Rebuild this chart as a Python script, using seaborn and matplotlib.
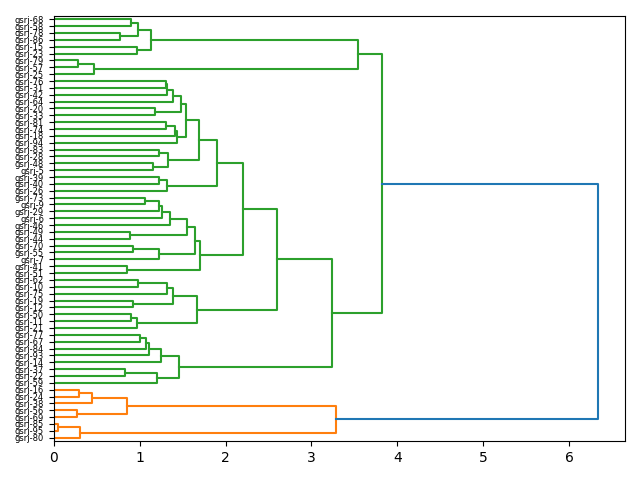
import seaborn as sns
import matplotlib.pyplot as plt
import pandas as pd

# leaf labels, listed top to bottom as they appear
leaves = ['gsrj-68', 'gsrj-58', 'gsrj-78', 'gsrj-86', 'gsrj-15', 'gsrj-23', 'gsrj-79', 'gsrj-57',
          'gsrj-25', 'gsrj-76', 'gsrj-31', 'gsrj-42', 'gsrj-64', 'gsrj-20', 'gsrj-33', 'gsrj-81',
          'gsrj-74', 'gsrj-18', 'gsrj-94', 'gsrj-83', 'gsrj-28', 'gsrj-48', 'gsrj-5', 'gsrj-39',
          'gsrj-40', 'gsrj-26', 'gsrj-73', 'gsrj-9', 'gsrj-29', 'gsrj-6', 'gsrj-46', 'gsrj-49',
          'gsrj-44', 'gsrj-70', 'gsrj-55', 'gsrj-7', 'gsrj-41', 'gsrj-51', 'gsrj-62', 'gsrj-10',
          'gsrj-75', 'gsrj-19', 'gsrj-12', 'gsrj-50', 'gsrj-11', 'gsrj-21', 'gsrj-77', 'gsrj-67',
          'gsrj-84', 'gsrj-93', 'gsrj-14', 'gsrj-37', 'gsrj-22', 'gsrj-59', 'gsrj-16', 'gsrj-24',
          'gsrj-38', 'gsrj-56', 'gsrj-69', 'gsrj-85', 'gsrj-95', 'gsrj-80']

# merges: strings are leaves, ints point to an earlier merge
merge_a = ['gsrj-68', 'gsrj-78', 0, 'gsrj-15', 2, 'gsrj-79', 5, 4,
           'gsrj-76', 8, 9, 'gsrj-20', 10, 'gsrj-81', 13, 14, 12,
           'gsrj-83', 'gsrj-48', 17, 16,
           'gsrj-39', 21, 20,
           'gsrj-73', 24, 25, 26, 'gsrj-49', 27, 'gsrj-70', 30, 29, 'gsrj-41', 32, 23,
           'gsrj-62', 36, 'gsrj-19', 37, 'gsrj-50', 40, 39, 35,
           'gsrj-77', 44, 45, 46, 'gsrj-37', 48, 47, 43, 7,
           'gsrj-16', 53, 'gsrj-56', 54, 'gsrj-85', 57, 56, 52]
merge_b = ['gsrj-58', 'gsrj-86', 1, 'gsrj-23', 3, 'gsrj-57', 'gsrj-25', 6,
           'gsrj-31', 'gsrj-42', 'gsrj-64', 'gsrj-33', 11, 'gsrj-74', 'gsrj-18', 'gsrj-94', 15,
           'gsrj-28', 'gsrj-5', 18, 19,
           'gsrj-40', 'gsrj-26', 22,
           'gsrj-9', 'gsrj-29', 'gsrj-6', 'gsrj-46', 'gsrj-44', 28, 'gsrj-55', 'gsrj-7', 31, 'gsrj-51', 33, 34,
           'gsrj-10', 'gsrj-75', 'gsrj-12', 38, 'gsrj-11', 'gsrj-21', 41, 42,
           'gsrj-67', 'gsrj-84', 'gsrj-93', 'gsrj-14', 'gsrj-22', 'gsrj-59', 49, 50, 51,
           'gsrj-24', 'gsrj-38', 'gsrj-69', 55, 'gsrj-95', 'gsrj-80', 58, 59]
merge_h = [0.894, 0.77, 0.975, 0.97, 1.127, 0.28, 0.463, 3.547,
           1.305, 1.32, 1.39, 1.177, 1.48, 1.305, 1.41, 1.43, 1.535,
           1.224, 1.157, 1.329, 1.69,
           1.224, 1.313, 1.896,
           1.06, 1.224, 1.255, 1.352, 0.886, 1.554, 0.925, 1.224, 1.643, 0.855, 1.70, 2.206,
           0.983, 1.313, 0.917, 1.39, 0.905, 0.964, 1.663, 2.596,
           1.0, 1.07, 1.107, 1.243, 0.827, 1.197, 1.457, 3.236, 3.823,
           0.295, 0.451, 0.276, 0.855, 0.05, 0.311, 3.283, 6.337]

n = len(leaves)
leaf_y = {lab: 10 * (n - 1 - i) + 5 for i, lab in enumerate(leaves)}
thr = 0.7 * max(merge_h)


def node(c, pos):
    if isinstance(c, str):
        return 0.0, leaf_y[c]
    return merge_h[c], pos[c]


pos = []
for a, b, h in zip(merge_a, merge_b, merge_h):
    pos.append((node(a, pos)[1] + node(b, pos)[1]) / 2)

# colour groups: subtrees below the threshold
parent = {}
for k, (a, b) in enumerate(zip(merge_a, merge_b)):
    for c in (a, b):
        if not isinstance(c, str):
            parent[c] = k
roots = [k for k in range(len(merge_h))
         if merge_h[k] < thr and merge_h[parent.get(k, k)] >= thr]


def lowest(k):
    ys = []
    for c in (merge_a[k], merge_b[k]):
        ys.append(leaf_y[c] if isinstance(c, str) else lowest(c))
    return min(ys)


roots.sort(key=lowest)
pal = sns.color_palette('tab10')
grp_col = {'above': pal[0]}
grp = {}
for j, r in enumerate(roots):
    grp_col['g%d' % j] = pal[j + 1]
    stack = [r]
    while stack:
        k = stack.pop()
        grp[k] = 'g%d' % j
        stack += [c for c in (merge_a[k], merge_b[k]) if not isinstance(c, str)]

rows = []
for k, (a, b, h) in enumerate(zip(merge_a, merge_b, merge_h)):
    ha, ya = node(a, pos)
    hb, yb = node(b, pos)
    g = grp.get(k, 'above')
    for i, (x, y) in enumerate([(ha, ya), (h, ya), (h, yb), (hb, yb)]):
        rows.append({'seg': k, 'i': i, 'x': x, 'y': y, 'grp': g})
df = pd.DataFrame(rows)

fig = plt.figure(figsize=(6.4, 4.8), dpi=100)
ax = fig.add_subplot(111)
sns.lineplot(data=df, x='x', y='y', units='seg', hue='grp', estimator=None, sort=False,
             palette=grp_col, legend=False, linewidth=1.5, ax=ax)
ax.set_xlim(0, max(merge_h) * 1.05)
ax.set_ylim(0, n * 10)
ax.set_yticks([leaf_y[lab] for lab in leaves[::-1]])
ax.set_yticklabels(leaves[::-1])
ax.yaxis.set_tick_params(labelsize=6)
ax.set_xlabel('')
ax.set_ylabel('')
plt.subplots_adjust(left=0.084, right=0.977, top=0.967, bottom=0.081)
plt.savefig('out.png')
